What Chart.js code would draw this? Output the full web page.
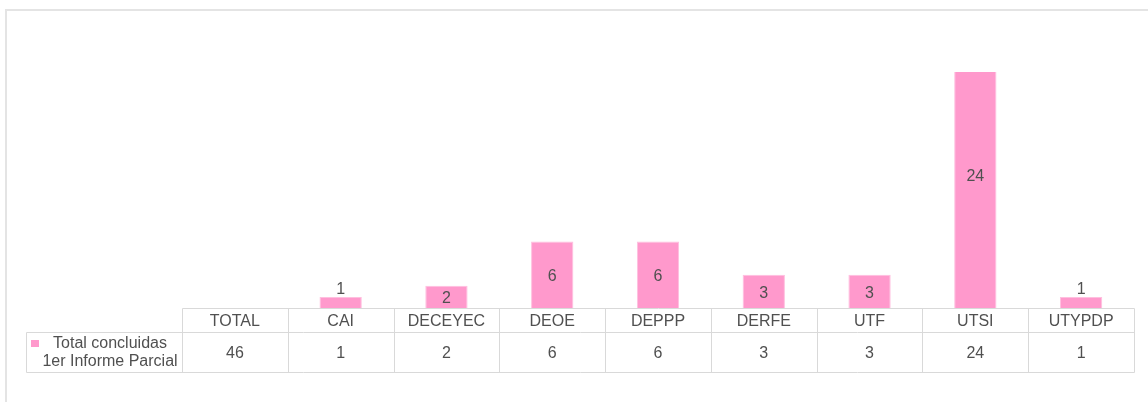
<!DOCTYPE html>
<html>
<head>
<meta charset="utf-8">
<script src="https://cdn.jsdelivr.net/npm/chart.js@4/dist/chart.umd.min.js"></script>
<style>
    html, body { margin: 0; padding: 0; background: #fff; overflow: hidden; }
    #frame { position: absolute; left: 5px; top: 9px; width: 1200px; height: 500px; border: 2px solid #e4e4e4; }
    #wrap { position: absolute; left: 0; top: 0; width: 1148px; height: 402px; }
</style>
</head>
<body>
<div id="frame"></div>
<div id="wrap"><canvas id="chart" width="1148" height="402"></canvas></div>
<script>
const categories = ['TOTAL', 'CAI', 'DECEYEC', 'DEOE', 'DEPPP', 'DERFE', 'UTF', 'UTSI', 'UTYPDP']
const concluidas = [46, 1, 2, 6, 6, 3, 3, 24, 1]
const seriesName = ['Total concluidas', '1er Informe Parcial']
const yMax = 21.26

const pink = '#ff99cc'
const textColor = '#505050'
const lineColor = '#d9d9d9'
const font = '16px "Liberation Sans", Arial, sans-serif'

// the TOTAL column only appears in the table, not as a bar
const barValues = concluidas.map((v, i) => categories[i] === 'TOTAL' ? null : v)

const barLabels = {
    id: 'barLabels',
    afterDatasetsDraw(chart) {
        const ctx = chart.ctx
        const meta = chart.getDatasetMeta(0)
        ctx.save()
        ctx.font = font
        ctx.fillStyle = textColor
        ctx.textAlign = 'center'
        ctx.textBaseline = 'middle'
        meta.data.forEach((bar, i) => {
            const v = barValues[i]
            if (v == null) return
            const h = bar.base - bar.y
            if (h < 16) {
                ctx.fillText(String(v), bar.x, bar.y - 7)
            } else {
                ctx.fillText(String(v), bar.x, (bar.y + bar.base) / 2 + 2)
            }
        })
        ctx.restore()
    }
}

const dataTable = {
    id: 'dataTable',
    afterDraw(chart) {
        const ctx = chart.ctx
        const x = chart.scales.x
        const area = chart.chartArea
        const step = x.getPixelForValue(1) - x.getPixelForValue(0)
        const left = x.getPixelForValue(0) - step / 2
        const right = left + step * categories.length
        const top = Math.round(area.bottom) + 0.5
        const mid = top + 24
        const bottom = top + 64
        const legendLeft = 26.5

        ctx.save()
        ctx.strokeStyle = lineColor
        ctx.lineWidth = 1
        ctx.beginPath()
        ctx.moveTo(Math.round(left) + 0.5, top); ctx.lineTo(Math.round(right) + 0.5, top)
        ctx.moveTo(legendLeft, mid); ctx.lineTo(Math.round(right) + 0.5, mid)
        ctx.moveTo(legendLeft, bottom); ctx.lineTo(Math.round(right) + 0.5, bottom)
        ctx.moveTo(legendLeft, mid); ctx.lineTo(legendLeft, bottom)
        for (let i = 0; i <= categories.length; i++) {
            const px = Math.round(left + i * step) + 0.5
            ctx.moveTo(px, top); ctx.lineTo(px, bottom)
        }
        ctx.stroke()

        ctx.font = font
        ctx.fillStyle = textColor
        ctx.textAlign = 'center'
        ctx.textBaseline = 'middle'
        categories.forEach((c, i) => {
            const cx = x.getPixelForValue(i)
            ctx.fillText(c, cx, (top + mid) / 2 + 1)
            ctx.fillText(String(concluidas[i]), cx, (mid + bottom) / 2 + 1)
        })

        // legend key inside the table
        ctx.fillStyle = pink
        ctx.fillRect(31, 340, 8, 7)
        ctx.fillStyle = textColor
        ctx.fillText(seriesName[0], 110, 344)
        ctx.fillText(seriesName[1], 110, 362)
        ctx.restore()
    }
}

new Chart(document.getElementById('chart'), {
    type: 'bar',
    data: {
        labels: categories,
        datasets: [{
            label: seriesName.join(' '),
            data: barValues,
            backgroundColor: pink,
            borderColor: '#ffbfdf',
            borderWidth: 1,
            categoryPercentage: 1,
            barPercentage: 0.4,
            clip: 0
        }]
    },
    options: {
        responsive: false,
        animation: false,
        layout: {
            padding: { left: 182, right: 14, top: 72, bottom: 94 }
        },
        scales: {
            x: { display: false },
            y: { display: false, min: 0, max: yMax }
        },
        plugins: {
            legend: { display: false },
            tooltip: { enabled: false }
        }
    },
    plugins: [barLabels, dataTable]
})
</script>
</body>
</html>
